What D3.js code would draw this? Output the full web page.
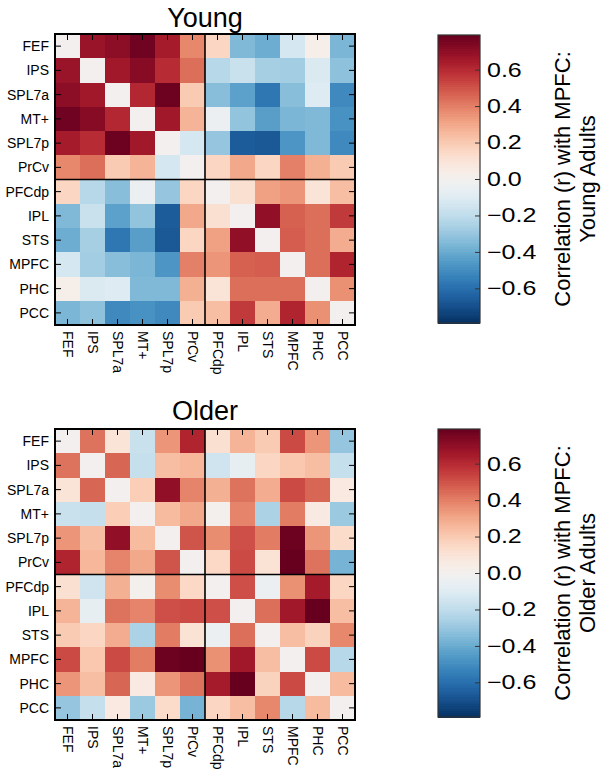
<!DOCTYPE html>
<html>
<head>
<meta charset="utf-8">
<script src="https://cdn.jsdelivr.net/npm/d3@7"></script>
<style>
  html, body { margin: 0; padding: 0; background: #fff; }
  svg text { font-family: "Liberation Sans", Arial, sans-serif; fill: #000; }
</style>
</head>
<body>
<svg id="chart" width="602" height="777"></svg>
<script>
const regions = ["FEF", "IPS", "SPL7a", "MT+", "SPL7p", "PrCv", "PFCdp", "IPL", "STS", "MPFC", "PHC", "PCC"];

const youngValues = [
  [0, 0.68, 0.71, 0.77, 0.65, 0.38, 0.16, -0.35, -0.39, -0.13, 0.03, -0.36],
  [0.68, 0, 0.66, 0.72, 0.60, 0.44, -0.22, -0.17, -0.26, -0.27, -0.11, -0.32],
  [0.71, 0.66, 0, 0.61, 0.78, 0.20, -0.33, -0.43, -0.57, -0.33, -0.10, -0.51],
  [0.77, 0.72, 0.61, 0, 0.66, 0.27, -0.04, -0.31, -0.44, -0.36, -0.35, -0.48],
  [0.65, 0.60, 0.78, 0.66, 0, -0.13, -0.30, -0.66, -0.67, -0.47, -0.35, -0.51],
  [0.38, 0.44, 0.20, 0.27, -0.13, 0, 0.16, 0.30, 0.16, 0.40, 0.28, 0.20],
  [0.16, -0.22, -0.33, -0.04, -0.30, 0.16, 0, 0.12, 0.32, 0.35, 0.10, 0.24],
  [-0.35, -0.17, -0.43, -0.31, -0.66, 0.30, 0.12, 0, 0.70, 0.47, 0.44, 0.56],
  [-0.39, -0.26, -0.57, -0.44, -0.67, 0.16, 0.32, 0.70, 0, 0.48, 0.44, 0.29],
  [-0.13, -0.27, -0.33, -0.36, -0.47, 0.40, 0.35, 0.47, 0.48, 0, 0.44, 0.62],
  [0.03, -0.11, -0.10, -0.35, -0.35, 0.28, 0.10, 0.44, 0.44, 0.44, 0, 0.36],
  [-0.36, -0.32, -0.51, -0.48, -0.51, 0.20, 0.24, 0.56, 0.29, 0.62, 0.36, 0]
];

const olderValues = [
  [0, 0.43, 0.10, -0.17, 0.35, 0.62, 0.12, 0.27, 0.20, 0.52, 0.35, -0.30],
  [0.43, 0, 0.46, -0.18, 0.24, 0.26, -0.15, -0.06, 0.16, 0.21, 0.24, -0.18],
  [0.10, 0.46, 0, 0.19, 0.70, 0.39, 0.28, 0.43, 0.29, 0.52, 0.46, 0.07],
  [-0.17, -0.18, 0.19, 0, 0.25, 0.30, 0.01, 0.39, -0.25, 0.41, 0.06, -0.29],
  [0.35, 0.24, 0.70, 0.25, 0, 0.50, 0.37, 0.51, 0.41, 0.78, 0.35, 0.14],
  [0.62, 0.26, 0.39, 0.30, 0.50, 0, 0.15, 0.52, 0.11, 0.80, 0.43, -0.37],
  [0.12, -0.15, 0.28, 0.01, 0.37, 0.15, 0, 0.51, -0.04, 0.36, 0.65, 0.16],
  [0.27, -0.06, 0.43, 0.39, 0.51, 0.52, 0.51, 0, 0.44, 0.66, 0.79, 0.24],
  [0.20, 0.16, 0.29, -0.25, 0.41, 0.11, -0.04, 0.44, 0, 0.24, 0.17, 0.38],
  [0.52, 0.21, 0.52, 0.41, 0.78, 0.80, 0.36, 0.66, 0.24, 0, 0.52, -0.22],
  [0.35, 0.24, 0.46, 0.06, 0.35, 0.43, 0.65, 0.79, 0.17, 0.52, 0, 0.25],
  [-0.30, -0.18, 0.07, -0.29, 0.14, -0.37, 0.16, 0.24, 0.38, -0.22, 0.25, 0]
];

const colorbarTicks = [0.6, 0.4, 0.2, 0.0, -0.2, -0.4, -0.6];
const panelTitles = ["Young", "Older"];
const colorbarLabels = [["Correlation (r) with MPFC:", "Young Adults"], ["Correlation (r) with MPFC:", "Older Adults"]];
const colorRange = 0.79;

const svg = d3.select("#chart");
const color = d3.scaleSequential(d3.interpolateRdBu).domain([colorRange, -colorRange]);

const panels = [
  { values: youngValues, title: panelTitles[0], label: colorbarLabels[0], top: 34, cbTop: 35, titleY: 27 },
  { values: olderValues, title: panelTitles[1], label: colorbarLabels[1], top: 429, cbTop: 429, titleY: 420 }
];

const hmLeft = 55, hmWidth = 300, hmHeight = 291;
const cbLeft = 438, cbWidth = 42, cbHeight = 288;
const fmt = v => (v < 0 ? "\u2212" : "") + Math.abs(v).toFixed(1);
const tickStretch = 1.25;

panels.forEach(p => {
  const x = d3.scaleBand().domain(regions).range([hmLeft, hmLeft + hmWidth]);
  const y = d3.scaleBand().domain(regions).range([p.top, p.top + hmHeight]);
  const g = svg.append("g");

  // title
  g.append("text").attr("x", hmLeft + hmWidth / 2).attr("y", p.titleY)
    .attr("text-anchor", "middle").attr("font-size", 27).text(p.title);

  // cells
  const cells = [];
  p.values.forEach((row, i) => row.forEach((v, j) => cells.push({ r: regions[i], c: regions[j], v })));
  g.append("g").attr("shape-rendering", "crispEdges")
    .selectAll("rect").data(cells).join("rect")
    .attr("x", d => x(d.c)).attr("y", d => y(d.r))
    .attr("width", x.bandwidth() + 0.5).attr("height", y.bandwidth() + 0.5)
    .attr("fill", d => color(d.v));

  // inward ticks on all sides
  const tickLen = 6;
  const tg = g.append("g").attr("stroke", "#000").attr("stroke-width", 1);
  regions.forEach(r => {
    const cx = x(r) + x.bandwidth() / 2;
    const cy = y(r) + y.bandwidth() / 2;
    tg.append("line").attr("x1", cx).attr("x2", cx).attr("y1", p.top).attr("y2", p.top + tickLen);
    tg.append("line").attr("x1", cx).attr("x2", cx).attr("y1", p.top + hmHeight).attr("y2", p.top + hmHeight - tickLen);
    tg.append("line").attr("y1", cy).attr("y2", cy).attr("x1", hmLeft).attr("x2", hmLeft + tickLen);
    tg.append("line").attr("y1", cy).attr("y2", cy).attr("x1", hmLeft + hmWidth).attr("x2", hmLeft + hmWidth - tickLen);
  });

  // divider lines between the two networks
  const midX = x(regions[6]), midY = y(regions[6]);
  g.append("line").attr("x1", midX).attr("x2", midX).attr("y1", p.top).attr("y2", p.top + hmHeight)
    .attr("stroke", "#000").attr("stroke-width", 1.6);
  g.append("line").attr("y1", midY).attr("y2", midY).attr("x1", hmLeft).attr("x2", hmLeft + hmWidth)
    .attr("stroke", "#000").attr("stroke-width", 1.6);

  // frame
  g.append("rect").attr("x", hmLeft).attr("y", p.top).attr("width", hmWidth).attr("height", hmHeight)
    .attr("fill", "none").attr("stroke", "#000").attr("stroke-width", 2);

  // y labels
  g.append("g").selectAll("text").data(regions).join("text")
    .attr("x", hmLeft - 6).attr("y", d => y(d) + y.bandwidth() / 2)
    .attr("text-anchor", "end").attr("dominant-baseline", "central")
    .attr("font-size", 14).text(d => d);

  // x labels (rotated, reading top to bottom)
  g.append("g").selectAll("text").data(regions).join("text")
    .attr("transform", d => `translate(${x(d) + x.bandwidth() / 2},${p.top + hmHeight + 6}) rotate(90)`)
    .attr("text-anchor", "start").attr("dominant-baseline", "central")
    .attr("font-size", 14).text(d => d);

  // colorbar
  const cbScale = d3.scaleLinear().domain([colorRange, -colorRange]).range([p.cbTop, p.cbTop + cbHeight]);
  const steps = d3.range(0, 128).map(k => -colorRange + (k + 0.5) * (2 * colorRange / 128));
  const stepH = cbHeight / 128;
  g.append("g").attr("shape-rendering", "crispEdges").selectAll("rect").data(steps).join("rect")
    .attr("x", cbLeft).attr("width", cbWidth)
    .attr("y", d => cbScale(d) - stepH / 2).attr("height", stepH + 0.6)
    .attr("fill", d => color(d));
  g.append("rect").attr("x", cbLeft).attr("y", p.cbTop).attr("width", cbWidth).attr("height", cbHeight)
    .attr("fill", "none").attr("stroke", "#333").attr("stroke-width", 1.2);

  const cbAxis = d3.axisRight(cbScale).tickValues(colorbarTicks).tickSize(-5).tickPadding(7).tickFormat(fmt);
  const ax = g.append("g").attr("transform", `translate(${cbLeft + cbWidth},0)`).call(cbAxis);
  ax.select(".domain").remove();
  ax.selectAll(".tick line").attr("stroke", "#333");
  ax.selectAll(".tick text")
    .attr("x", 7 / tickStretch)
    .attr("transform", `scale(${tickStretch},1)`)
    .attr("font-size", 20).attr("font-family", "Liberation Sans, Arial, sans-serif").attr("fill", "#000");

  // colorbar label
  const cy = p.cbTop + cbHeight / 2;
  const lab = g.append("text").attr("transform", `translate(570,${cy}) rotate(-90)`)
    .attr("text-anchor", "middle").attr("font-size", 22);
  lab.append("tspan").attr("x", 0).attr("dy", 0).text(p.label[0]);
  lab.append("tspan").attr("x", 0).attr("dy", 25).text(p.label[1]);
});
</script>
</body>
</html>
